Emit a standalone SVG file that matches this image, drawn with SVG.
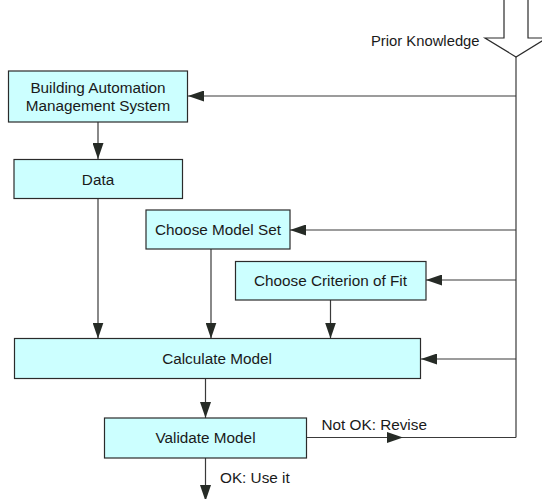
<svg xmlns="http://www.w3.org/2000/svg" width="542" height="499" viewBox="0 0 542 499">
  <style>
    .box { fill: #ccffff; stroke: #2b2b2b; stroke-width: 1.2; }
    .lbl { font-family: "Liberation Sans", Arial, sans-serif; font-size: 15.3px; fill: #1a1a1a; }
    .mid { text-anchor: middle; }
    .wire { fill: none; stroke: #3a3a3a; stroke-width: 1.2; }
  </style>
  <defs>
    <marker id="head" viewBox="0 0 16 11" refX="16" refY="5.5" markerWidth="16" markerHeight="11" markerUnits="userSpaceOnUse" orient="auto">
      <path d="M0,0 L16,5.5 L0,11 Z" fill="#262b26"/>
    </marker>
  </defs>

  <rect width="542" height="499" fill="#ffffff"/>

  <!-- incoming knowledge arrow -->
  <g id="prior-knowledge">
    <polygon points="504,-2 528,-2 528,38 547,38 516,57 485,38 504,38" fill="#ffffff" stroke="#2b2b2b" stroke-width="1.2"/>
    <text class="lbl" x="371" y="46" style="font-size:14.8px">Prior Knowledge</text>
  </g>

  <g id="connectors">
    <!-- knowledge bus -->
    <line class="wire" x1="516" y1="57" x2="516" y2="437.5"/>
    <line class="wire" x1="516" y1="96" x2="188" y2="96" marker-end="url(#head)"/>
    <line class="wire" x1="516" y1="230" x2="290" y2="230" marker-end="url(#head)"/>
    <line class="wire" x1="516" y1="280" x2="426" y2="280" marker-end="url(#head)"/>
    <line class="wire" x1="516" y1="359" x2="421" y2="359" marker-end="url(#head)"/>
    <!-- flow -->
    <line class="wire" x1="98" y1="122" x2="98" y2="159" marker-end="url(#head)"/>
    <line class="wire" x1="98" y1="198.5" x2="98" y2="338.5" marker-end="url(#head)"/>
    <line class="wire" x1="211" y1="249" x2="211" y2="338.5" marker-end="url(#head)"/>
    <line class="wire" x1="330.5" y1="300" x2="330.5" y2="338.5" marker-end="url(#head)"/>
    <line class="wire" x1="205.5" y1="378.5" x2="205.5" y2="418" marker-end="url(#head)"/>
    <!-- validation outcomes -->
    <line class="wire" x1="306.5" y1="437.5" x2="516" y2="437.5"/>
    <line class="wire" x1="306.5" y1="437.5" x2="403" y2="437.5" marker-end="url(#head)"/>
    <line class="wire" x1="205.5" y1="458" x2="205.5" y2="501" marker-end="url(#head)"/>
    <text class="lbl" x="321.5" y="430">Not OK: Revise</text>
    <text class="lbl" x="220" y="482.5">OK: Use it</text>
  </g>

  <g id="bams">
    <rect class="box" x="8.5" y="71" width="179" height="51"/>
    <text class="lbl mid" x="98" y="92.5">Building Automation</text>
    <text class="lbl mid" x="98" y="111">Management System</text>
  </g>

  <g id="data">
    <rect class="box" x="14" y="159.5" width="168.5" height="39"/>
    <text class="lbl mid" x="98" y="184.5">Data</text>
  </g>

  <g id="choose-model-set">
    <rect class="box" x="146" y="210" width="144" height="39"/>
    <text class="lbl mid" x="218" y="235">Choose Model Set</text>
  </g>

  <g id="choose-criterion">
    <rect class="box" x="235.5" y="261.5" width="190.5" height="38.5"/>
    <text class="lbl mid" x="330.5" y="286">Choose Criterion of Fit</text>
  </g>

  <g id="calculate-model">
    <rect class="box" x="14.5" y="338.5" width="406" height="40"/>
    <text class="lbl mid" x="217" y="364">Calculate Model</text>
  </g>

  <g id="validate-model">
    <rect class="box" x="104.5" y="418" width="202" height="40"/>
    <text class="lbl mid" x="205.5" y="443">Validate Model</text>
  </g>
</svg>
